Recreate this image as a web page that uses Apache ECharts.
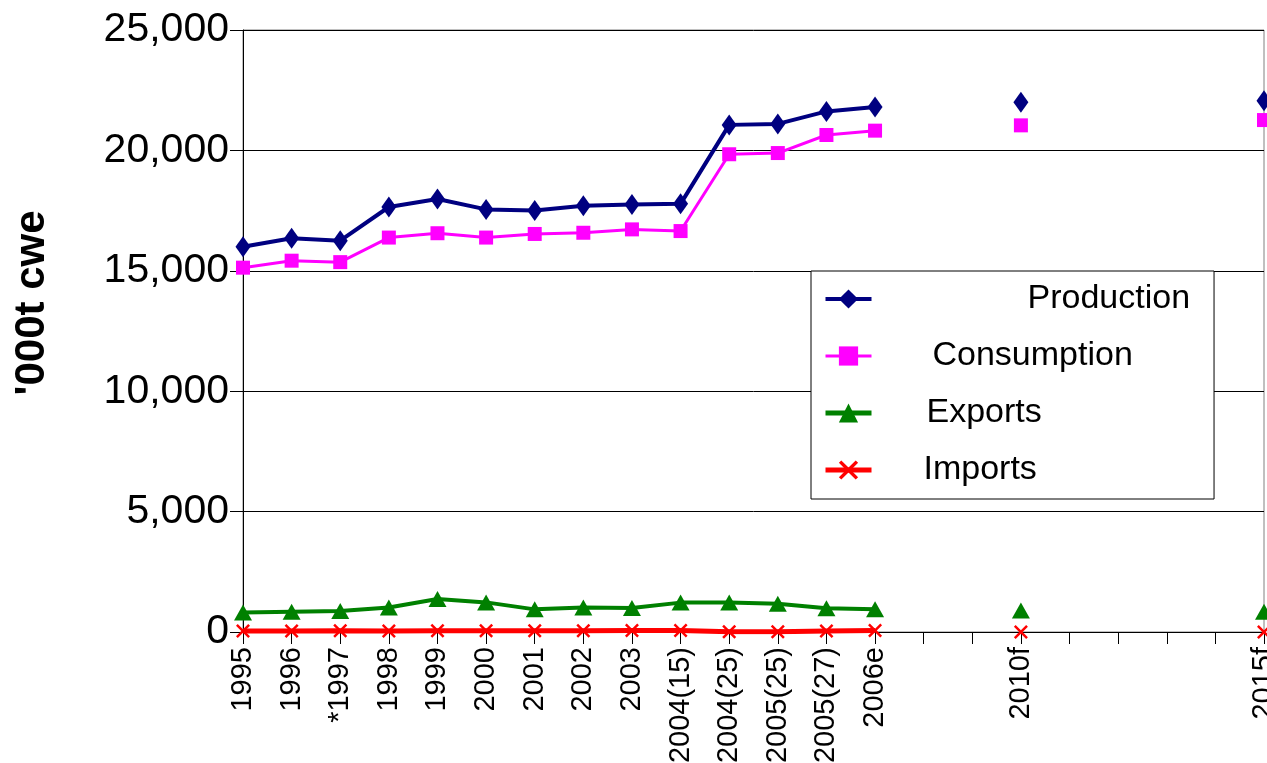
<!DOCTYPE html>
<html>
<head>
<meta charset="utf-8">
<script src="https://cdn.jsdelivr.net/npm/echarts@6/dist/echarts.min.js"></script>
<style>
  html, body { margin: 0; padding: 0; background: #fff; }
  #chart { width: 1267px; height: 763px; }
</style>
</head>
<body>
<div id="chart"></div>
<script>
// Categories along the x axis; empty strings are unlabelled year slots
var categories = ['1995', '1996', '*1997', '1998', '1999', '2000', '2001', '2002', '2003',
  '2004(15)', '2004(25)', '2005(25)', '2005(27)', '2006e', '', '', '2010f', '', '', '', '', '2015f'];

// Series values, '000t cwe (null = no value for that slot)
var production = [16000, 16350, 16250, 17650, 17980, 17550, 17500, 17700, 17750, 17780,
  21060, 21100, 21620, 21800, null, null, 22000, null, null, null, null, 22060];
var consumption = [15130, 15420, 15360, 16380, 16560, 16380, 16530, 16580, 16720, 16650,
  19840, 19890, 20640, 20820, null, null, 21040, null, null, null, null, 21260];
var exportsData = [810, 845, 870, 1020, 1370, 1230, 940, 1020, 1000, 1220,
  1230, 1170, 990, 940, null, null, 890, null, null, null, null, 840];
var imports = [40, 40, 50, 40, 50, 50, 50, 50, 60, 60,
  10, 10, 40, 60, null, null, 0, null, null, null, null, 0];

var yTicks = [0, 5000, 10000, 15000, 20000, 25000];
var axisTitle = "'000t cwe";

var FONT = "'Liberation Sans', Arial, sans-serif";
var crossSymbol = 'path://M0,1.5L1.5,0L6,4.5L10.5,0L12,1.5L7.5,6L12,10.5L10.5,12L6,7.5L1.5,12L0,10.5L4.5,6Z';

function fmt(v) {
  return String(v).replace(/\B(?=(\d{3})+(?!\d))/g, ',');
}

var chart = echarts.init(document.getElementById('chart'), null, { renderer: 'canvas' });

chart.setOption({
  animation: false,
  backgroundColor: '#ffffff',
  textStyle: { fontFamily: FONT, color: '#000' },
  grid: {
    left: 243, right: 3, top: 30, bottom: 131,
    containLabel: false,
    outerBoundsMode: 'none',
    show: true, borderColor: '#808080', borderWidth: 1, backgroundColor: 'transparent'
  },
  xAxis: {
    type: 'category',
    data: categories,
    boundaryGap: false,
    axisLine: { lineStyle: { color: '#000', width: 1 } },
    axisTick: { show: true, interval: 0, length: 12, lineStyle: { color: '#000' } },
    axisLabel: {
      interval: 0, rotate: 90, margin: 15,
      fontSize: 29, fontFamily: FONT, color: '#000',
      hideOverlap: false
    },
    splitLine: { show: false }
  },
  yAxis: {
    type: 'value',
    min: yTicks[0],
    max: yTicks[yTicks.length - 1],
    interval: yTicks[1] - yTicks[0],
    axisLine: { show: true, lineStyle: { color: '#000', width: 1 } },
    axisTick: { show: true, length: 13, lineStyle: { color: '#000' } },
    axisLabel: {
      margin: 14, fontSize: 41, fontFamily: FONT, color: '#000',
      formatter: function (v) { return fmt(v); }
    },
    splitLine: { show: true, lineStyle: { color: '#000', width: 1 } }
  },
  graphic: [{
    type: 'text',
    x: 32, y: 303,
    rotation: Math.PI / 2,
    style: {
      text: axisTitle,
      font: 'bold 42px ' + FONT,
      fill: '#000',
      textAlign: 'center',
      textVerticalAlign: 'middle'
    }
  }],
  legend: {
    orient: 'vertical',
    left: 811, top: 271,
    padding: [8, 24, 9, 12],
    backgroundColor: '#ffffff',
    borderColor: '#000',
    borderWidth: 1,
    itemWidth: 46,
    itemHeight: 24,
    itemGap: 17,
    textStyle: { fontSize: 34, fontFamily: FONT, color: '#000', lineHeight: 40 },
    data: [
      { name: 'Production', lineStyle: { width: 4 }, textStyle: { padding: [0, 0, 0, 151] } },
      { name: 'Consumption', lineStyle: { width: 3 }, textStyle: { padding: [0, 0, 0, 56] } },
      { name: 'Exports', lineStyle: { width: 5 }, textStyle: { padding: [0, 0, 0, 50] } },
      { name: 'Imports', lineStyle: { width: 5 }, textStyle: { padding: [0, 0, 0, 47] } }
    ]
  },
  series: [
    {
      name: 'Production', type: 'line', data: production,
      symbol: 'diamond', symbolSize: [15, 21],
      lineStyle: { color: '#000080', width: 4 },
      itemStyle: { color: '#000080' },
      z: 5
    },
    {
      name: 'Consumption', type: 'line', data: consumption,
      symbol: 'rect', symbolSize: 14,
      lineStyle: { color: '#ff00ff', width: 3 },
      itemStyle: { color: '#ff00ff' },
      z: 4
    },
    {
      name: 'Exports', type: 'line', data: exportsData,
      symbol: 'triangle', symbolSize: [18, 16],
      lineStyle: { color: '#008000', width: 4 },
      itemStyle: { color: '#008000' },
      z: 3
    },
    {
      name: 'Imports', type: 'line', data: imports,
      symbol: crossSymbol, symbolSize: 14,
      lineStyle: { color: '#ff0000', width: 5 },
      itemStyle: { color: '#ff0000' },
      z: 6
    }
  ]
});
</script>
</body>
</html>
